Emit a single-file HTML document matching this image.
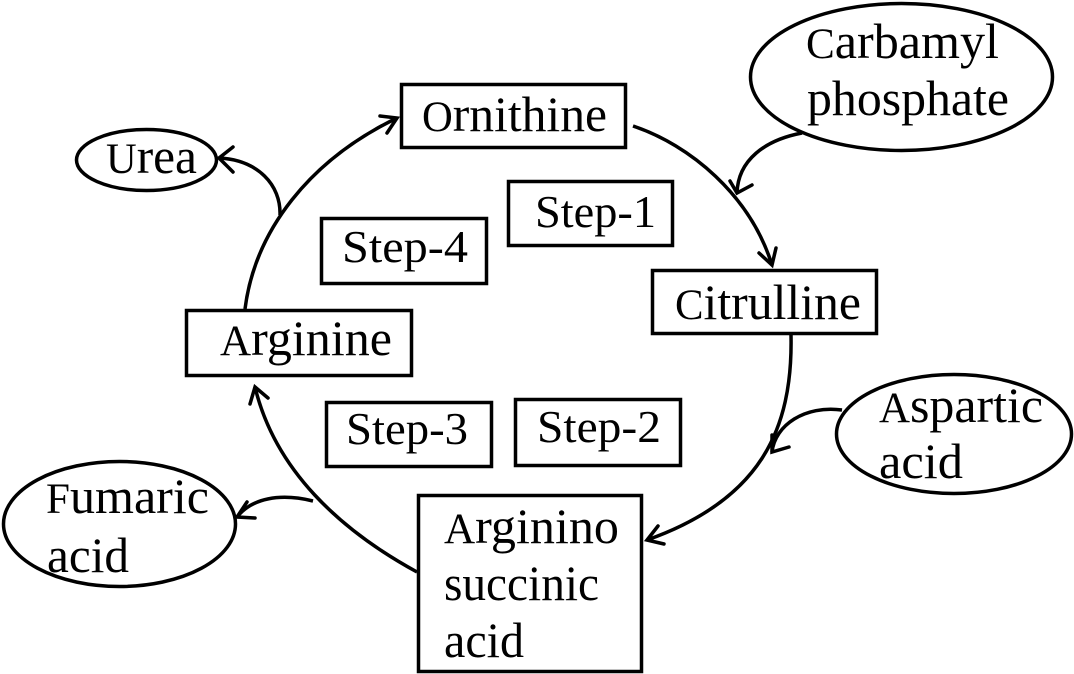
<!DOCTYPE html>
<html>
<head>
<meta charset="utf-8">
<style>
  html, body { margin: 0; padding: 0; background: #ffffff; }
  body { width: 1074px; height: 674px; overflow: hidden; }
  svg { display: block; }
  text { font-family: "Liberation Serif", "Times New Roman", serif; font-size: 50px; fill: #000; }
  .cap { font-size: 43px; }
  text.step { font-size: 46px; }
</style>
</head>
<body>
<svg width="1074" height="674" viewBox="0 0 1074 674" xmlns="http://www.w3.org/2000/svg">
  <rect x="0" y="0" width="1074" height="674" fill="#ffffff"/>
  <g fill="none" stroke="#000" stroke-width="3.5">
    <!-- Boxes -->
    <rect x="401.5" y="84.5" width="224" height="63"/>
    <rect x="508.5" y="181.5" width="164" height="64"/>
    <rect x="321.5" y="218.5" width="165" height="65"/>
    <rect x="652.5" y="270.5" width="224" height="63"/>
    <rect x="186.5" y="310.5" width="225" height="65"/>
    <rect x="326.5" y="402.5" width="165" height="64"/>
    <rect x="515.5" y="399.5" width="165" height="66"/>
    <rect x="418.5" y="495.5" width="223" height="176"/>
    <!-- Ellipses -->
    <ellipse cx="146.5" cy="160" rx="70" ry="30.5"/>
    <ellipse cx="901.5" cy="77" rx="151" ry="73.5"/>
    <ellipse cx="954" cy="434" rx="117.5" ry="59.5"/>
    <ellipse cx="119.5" cy="524" rx="116" ry="62.5"/>

    <!-- Cycle arcs -->
    <path d="M245,309 C255,230 310,160 397,118"/>
    <path d="M633,126 C690,145 750,195 772,265"/>
    <path d="M791,335 C793,430 760,500 647,540"/>
    <path d="M417,572 C340,530 275,470 255,387"/>

    <!-- Side arrows -->
    <path d="M280,215 C281,185 258,160 219,158"/>
    <path d="M802,133 C765,140 738,160 737,193"/>
    <path d="M842,410 C805,405 775,425 772,452"/>
    <path d="M313,501 C280,493 252,498 237,517"/>

    <!-- Arrowheads (open chevrons) -->
    <g stroke-linecap="round" stroke-linejoin="miter">
      <polyline points="380,116 397,118 387,133"/>
      <polyline points="759,253 772,265 776,248"/>
      <polyline points="658,526 647,540 664,544"/>
      <polyline points="250,404 255,387 268,398"/>
      <polyline points="233,147 219,158 233,172"/>
      <polyline points="730,181 737,193 752,185"/>
      <polyline points="772,435 772,452 789,447"/>
      <polyline points="247,502 237,517 255,518"/>
    </g>
  </g>

  <!-- Labels -->
  <text x="422" y="131" textLength="185" lengthAdjust="spacingAndGlyphs"><tspan class="cap">O</tspan>rnithine</text>
  <text class="step" x="535" y="227" textLength="121" lengthAdjust="spacingAndGlyphs">Step-1</text>
  <text class="step" x="342" y="262" textLength="126" lengthAdjust="spacingAndGlyphs">Step-4</text>
  <text x="675" y="319" textLength="186" lengthAdjust="spacingAndGlyphs"><tspan class="cap">C</tspan>itrulline</text>
  <text x="220" y="355" textLength="172" lengthAdjust="spacingAndGlyphs"><tspan class="cap">A</tspan>rginine</text>
  <text x="106" y="173" textLength="91" lengthAdjust="spacingAndGlyphs"><tspan class="cap">U</tspan>rea</text>
  <text x="806" y="58" textLength="193" lengthAdjust="spacingAndGlyphs"><tspan class="cap">C</tspan>arbamyl</text>
  <text x="807" y="115" textLength="202" lengthAdjust="spacingAndGlyphs">phosphate</text>
  <text x="879" y="422" textLength="164" lengthAdjust="spacingAndGlyphs"><tspan class="cap">A</tspan>spartic</text>
  <text x="879" y="478" textLength="84" lengthAdjust="spacingAndGlyphs">acid</text>
  <text class="step" x="346" y="444" textLength="122" lengthAdjust="spacingAndGlyphs">Step-3</text>
  <text class="step" x="537" y="442" textLength="124" lengthAdjust="spacingAndGlyphs">Step-2</text>
  <text x="46" y="513" textLength="163" lengthAdjust="spacingAndGlyphs"><tspan class="cap">F</tspan>umaric</text>
  <text x="47" y="572" textLength="82" lengthAdjust="spacingAndGlyphs">acid</text>
  <text x="444" y="543" textLength="175" lengthAdjust="spacingAndGlyphs"><tspan class="cap">A</tspan>rginino</text>
  <text x="444" y="600" textLength="155" lengthAdjust="spacingAndGlyphs">succinic</text>
  <text x="444" y="657" textLength="80" lengthAdjust="spacingAndGlyphs">acid</text>
</svg>
</body>
</html>
